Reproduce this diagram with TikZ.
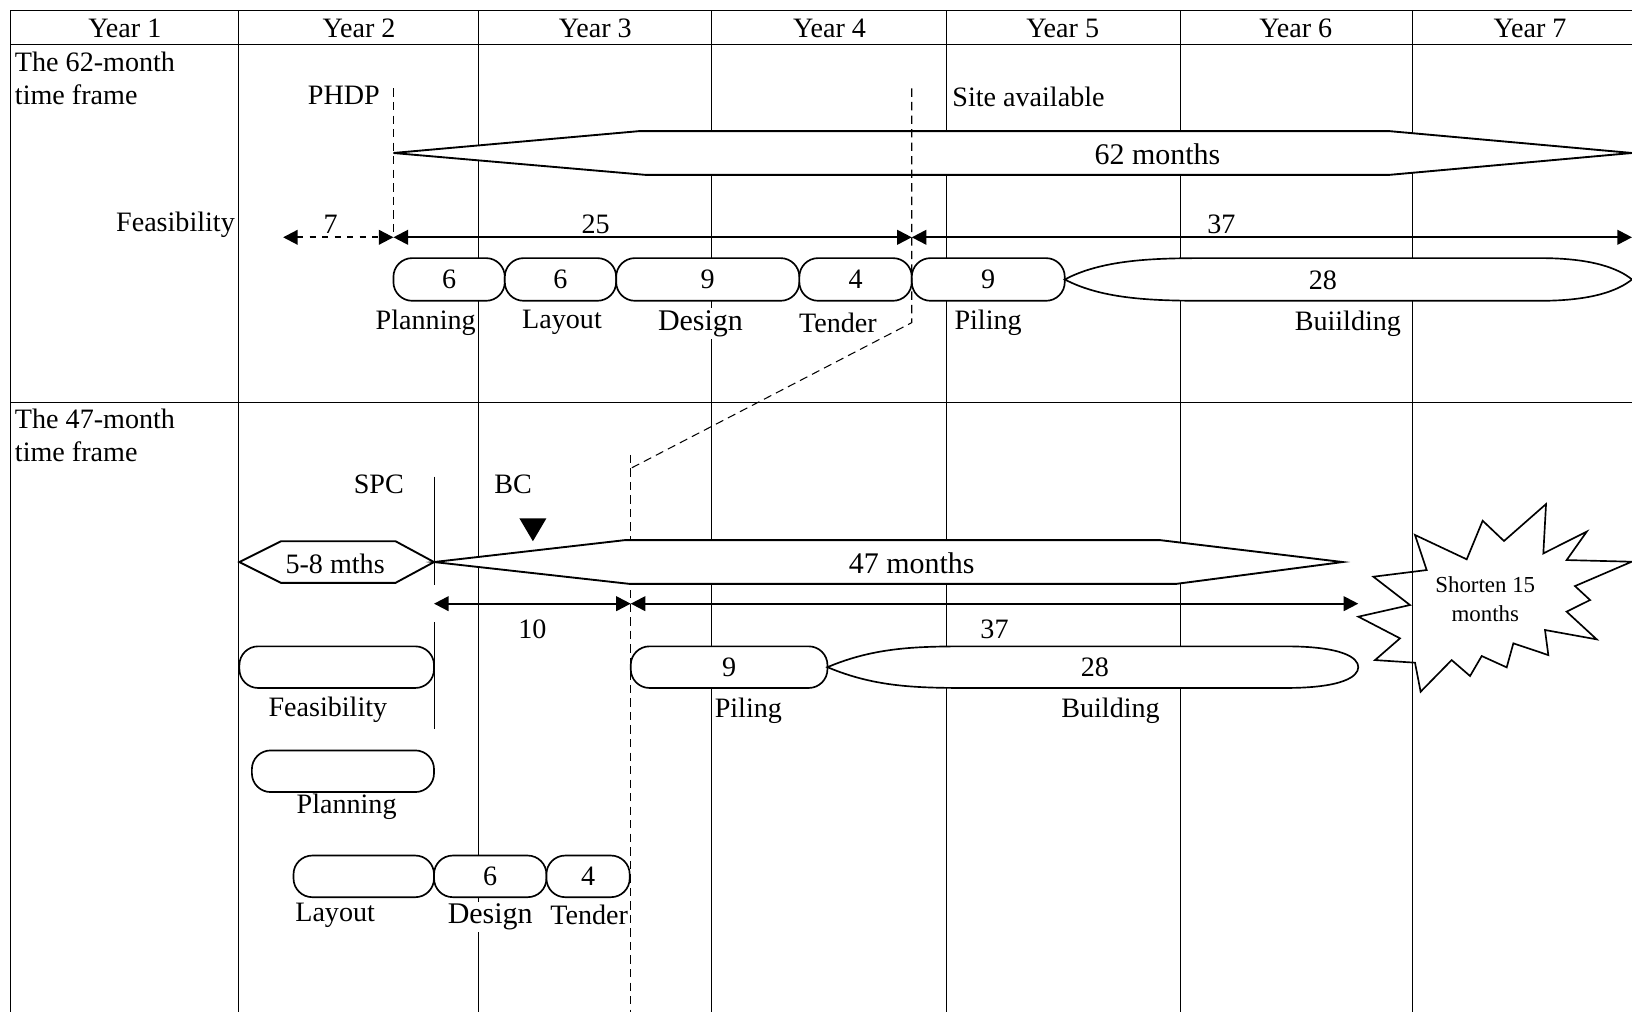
\documentclass[tikz,border=0pt]{standalone}
\usepackage{fontspec}
\setmainfont{Liberation Serif}
\usetikzlibrary{arrows.meta}

\begin{document}
\begin{tikzpicture}[x=0.5pt, y=-0.5pt,
    font=\fontsize{13.5}{15.5}\selectfont,
    grid/.style={line width=0.5pt},
    stagebox/.style={draw, fill=white, rounded corners=9pt, line width=0.8pt, inner sep=0pt, minimum height=20.5pt},
    stageshape/.style={draw, fill=white, line width=0.8pt},
    hexband/.style={draw, fill=white, line width=0.9pt},
    milestone/.style={dash pattern=on 4pt off 2.5pt, line width=0.5pt},
    span/.style={{Triangle[length=7pt,width=7pt]}-{Triangle[length=7pt,width=7pt]}, line width=1pt},
    bigtext/.style={font=\fontsize{14.4}{17}\selectfont}]
    \useasboundingbox (0,0) rectangle (1568,972);

    % 表格
    \draw[grid] (10,10) -- (1568,10);
    \draw[grid] (10,43) -- (1568,43);
    \draw[grid] (10,387) -- (1568,387);
    \foreach \x in {10,229,460,684,909,1134,1357}
        \draw[grid] (\x,10) -- (\x,972);
    \foreach \n/\x in {1/120,2/345,3/572,4/797,5/1021,6/1245,7/1470}
        \node (year\n) at (\x,27) {Year \n};

    \node[anchor=north west, align=left, inner sep=0pt] (frame62) at (14,50) {The 62-month\\time frame};
    \node[anchor=north west, align=left, inner sep=0pt] (frame47) at (14,393) {The 47-month\\time frame};

    % 62 个月方案
    \coordinate (phdptop) at (378,85);
    \coordinate (sitetop) at (876,85);
    \coordinate (sitebend) at (876,310);
    \coordinate (feas) at (272,228);
    \coordinate (phdp) at (378,228);
    \coordinate (site) at (876,228);
    \coordinate (end62) at (1568,228);
    \node[anchor=east] (phdptext) at (372,92) {PHDP};
    \node[anchor=west] (sitetext) at (908,93) {Site available};
    \node[anchor=east, inner sep=1pt] (feastext) at (228,216) {Feasibility};

    \draw[hexband] (378,147) -- (614,126) -- (1335,126) -- (1568,147) -- (1335,168) -- (620,168) -- cycle;
    \node[bigtext] (months62) at (1112,148) {62 months};

    \node[stagebox, minimum width=53.5pt] (plan1) at (431.5,268.5) {6};
    \node[stagebox, minimum width=53.5pt] (layout1) at (538.5,268.5) {6};
    \node[stagebox, minimum width=88pt] (design1) at (680,268.5) {9};
    \node[stagebox, minimum width=54pt] (tender1) at (822,268.5) {4};
    \node[stagebox, minimum width=73.5pt] (piling1) at (949.5,268.5) {9};
    \draw[stageshape] (1023,268.5) .. controls (1060,249) and (1110,248) .. (1160,248) -- (1480,248)
        .. controls (1530,248) and (1555,258) .. (1568,268.5) .. controls (1555,279) and (1530,289) .. (1480,289)
        -- (1160,289) .. controls (1110,289) and (1060,288) .. cycle;
    \node (build1) at (1271,269) {28};

    \node (planlab1) at (409,310) {Planning};
    \node (layoutlab1) at (540,310) {Layout};
    \node[bigtext, fill=white, inner sep=1pt] (designlab1) at (673,311) {Design};
    \node (tenderlab1) at (805,310) {Tender};
    \node[anchor=west] (pilinglab1) at (910,310) {Piling};
    \node (buildlab1) at (1295,311) {Buiilding};

    \draw[span, dashed] (feas) -- node[pos=0.43, above=-2pt] {7} (phdp);
    \draw[span] (phdp) -- node[pos=0.39, above=-2pt] {25} (site);
    \draw[span] (site) -- node[pos=0.43, above=-2pt] {37} (end62);

    % 里程碑虚线
    \coordinate (cuttop) at (606,437);
    \coordinate (cutjoin) at (606,450);
    \coordinate (cutbottom) at (606,972);
    \draw[milestone] (phdptop) -- (phdp);
    \draw[milestone] (sitetop) -- (sitebend) -- (cutjoin);
    \draw[milestone] (cuttop) -- (cutbottom);

    % 47 个月方案
    \coordinate (spctop) at (417,458);
    \coordinate (spcmid) at (417,562);
    \coordinate (spclow) at (417,598);
    \coordinate (spcend) at (417,700);
    \coordinate (spc) at (417,580);
    \coordinate (cut) at (606,580);
    \coordinate (end47) at (1305,580);
    \node (spctext) at (364,465) {SPC};
    \node (bctext) at (493,465) {BC};
    \fill (499,498) -- (525,498) -- (512,520) -- cycle;
    \draw[grid] (spctop) -- (spcmid);
    \draw[grid] (spclow) -- (spcend);

    \draw[hexband] (230,540) -- (270,520) -- (380,520) -- (417,540) -- (380,560) -- (270,560) -- cycle;
    \node (mths) at (322,542) {5-8 mths};
    \draw[hexband] (417,540) -- (600,519) -- (1115,519) -- (1290,540) -- (1130,561) -- (605,561) -- cycle;
    \node[bigtext] (months47) at (876,541) {47 months};

    \draw[span] (spc) -- node[below=4pt] {10} (cut);
    \draw[span] (cut) -- node[below=4pt] {37} (end47);

    \node[stagebox, minimum height=20pt, minimum width=93.5pt] (feas2) at (323.5,641) {};
    \node[stagebox, minimum height=20pt, minimum width=94.5pt] (piling2) at (700.5,641) {9};
    \draw[stageshape] (795,641) .. controls (840,622) and (880,621) .. (930,621) -- (1235,621)
        .. controls (1290,621) and (1305,632) .. (1305,641) .. controls (1305,650) and (1290,661) .. (1235,661)
        -- (930,661) .. controls (880,661) and (840,660) .. cycle;
    \node (build2) at (1052,641) {28};
    \node[stagebox, minimum height=20pt, minimum width=87.5pt] (plan2) at (329.5,741) {};
    \node[stagebox, minimum height=20pt, minimum width=67.5pt] (layout2) at (349.5,842) {};
    \node[stagebox, minimum height=20pt, minimum width=54pt] (design2) at (471,842) {6};
    \node[stagebox, minimum height=20pt, minimum width=40pt] (tender2) at (565,842) {4};

    \node (feaslab2) at (315,682) {Feasibility};
    \node (pilinglab2) at (719,683) {Piling};
    \node (buildlab2) at (1067,683) {Building};
    \node (planlab2) at (333,775) {Planning};
    \node (layoutlab2) at (322,879) {Layout};
    \node[bigtext, fill=white, inner sep=1pt] (designlab2) at (471,881) {Design};
    \node (tenderlab2) at (566,879) {Tender};

    % 缩短 15 个月
    \draw[line width=0.8pt] (1359.5,514) -- (1370.7,547.7) -- (1319.5,554.1) -- (1354.7,581.3)
        -- (1305.1,592.5) -- (1345.1,613.3) -- (1321.1,634.2) -- (1359.5,636.7) -- (1364.9,664.6)
        -- (1394.7,634.2) -- (1412.4,649.5) -- (1423.6,630.3) -- (1447.6,641.2) -- (1454,618.1)
        -- (1487.6,629.4) -- (1484.4,605.3) -- (1534.1,614.3) -- (1505.2,587.7) -- (1527.7,576.5)
        -- (1513.2,563.1) -- (1567.7,539.7) -- (1505.2,538.1) -- (1524.5,510.8) -- (1482.8,531.7)
        -- (1485.4,484.3) -- (1445,519.8) -- (1424.5,500.3) -- (1409.2,537.4) -- cycle;
    \node[font=\fontsize{11}{14}\selectfont, align=center] (shorten) at (1427,576) {Shorten 15\\months};
\end{tikzpicture}
\end{document}
